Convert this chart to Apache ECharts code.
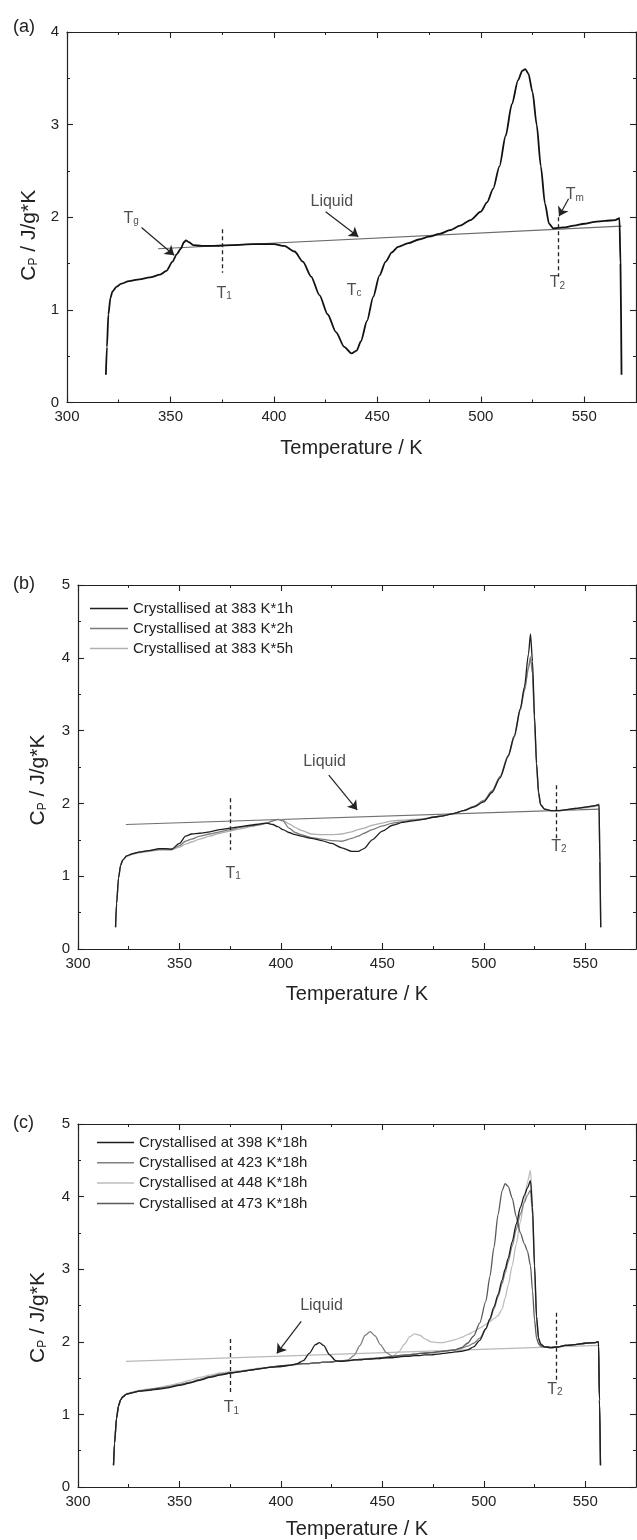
<!DOCTYPE html>
<html>
<head>
<meta charset="utf-8">
<script src="https://cdn.jsdelivr.net/npm/echarts@6/dist/echarts.min.js"></script>
<style>html,body{margin:0;padding:0;background:#fff}#c{width:637px;height:1540px}</style>
</head>
<body>
<div id="c"></div>
<script>
// ---------------- axis settings ----------------
const X_MIN = 300, X_MAX = 575, X_MAJOR = 50, X_MINOR = 25;
const Y_MAX = [4, 5, 5];

// ---------------- panel (a) ----------------
const aT  = [318.8,319.3,320,321,322,324,326,330,335,340,345,348,351,353,355,356.5,357.5,359,361,365,370,380,390,400,405,410,414,418,422,426,430,434,437.5,440,442,445,448,451,454,457,460,465,470,475,480,485,490,495,500,503,506,509,512,515,518,520,521.5,523,525,527,529,531,533,535,540,545,550,555,560,565,567,567.5,568];
const aCp = [0.30,0.60,0.95,1.13,1.20,1.25,1.28,1.31,1.33,1.35,1.38,1.42,1.52,1.60,1.66,1.73,1.75,1.73,1.70,1.69,1.69,1.70,1.71,1.71,1.69,1.63,1.52,1.36,1.16,0.95,0.76,0.60,0.53,0.56,0.66,0.88,1.14,1.37,1.52,1.62,1.68,1.72,1.76,1.79,1.82,1.86,1.91,1.97,2.06,2.16,2.31,2.55,2.88,3.22,3.48,3.58,3.60,3.55,3.35,3.00,2.55,2.15,1.93,1.88,1.89,1.91,1.93,1.95,1.96,1.97,1.99,1.50,0.30];
const aLiquidT  = [344, 568];
const aLiquidCp = [1.66, 1.905];

// ---------------- panel (b) ----------------
const bNames = ['Crystallised at 383 K*1h','Crystallised at 383 K*2h','Crystallised at 383 K*5h'];
const bT  = [318.5,319,320,321,322,324,327,330,335,340,343,346,350,353,356,360,365,370,375,380,385,390,393,396,398.5,401,404,407,410,415,420,425,430,435,438,441,445,450,455,460,465,470,475,480,485,490,495,500,504,508,512,515,518,520,522,523,524,525,526,527,528,530,533,537,540,545,550,555,556.8,557.2,557.6];
const b1h = [0.30,0.62,0.98,1.15,1.22,1.28,1.31,1.33,1.35,1.38,1.38,1.37,1.45,1.55,1.58,1.59,1.61,1.64,1.66,1.68,1.70,1.72,1.73,1.71,1.68,1.64,1.60,1.57,1.55,1.52,1.49,1.45,1.39,1.34,1.34,1.38,1.50,1.62,1.70,1.74,1.76,1.78,1.81,1.83,1.86,1.90,1.95,2.02,2.15,2.35,2.65,2.92,3.30,3.60,4.05,4.33,3.95,3.20,2.55,2.15,1.98,1.92,1.90,1.90,1.91,1.93,1.95,1.97,1.98,1.20,0.30];
const b2h = [0.30,0.62,0.98,1.15,1.22,1.28,1.31,1.33,1.35,1.37,1.37,1.37,1.42,1.48,1.51,1.55,1.58,1.61,1.64,1.67,1.69,1.71,1.73,1.76,1.78,1.76,1.66,1.60,1.57,1.53,1.51,1.49,1.48,1.52,1.55,1.59,1.64,1.69,1.73,1.75,1.77,1.78,1.81,1.83,1.86,1.90,1.96,2.04,2.17,2.37,2.66,2.93,3.30,3.55,3.85,4.00,3.78,3.10,2.50,2.12,1.98,1.92,1.90,1.90,1.91,1.93,1.95,1.97,1.99,1.20,0.30];
const b5h = [0.30,0.62,0.98,1.15,1.22,1.27,1.30,1.32,1.34,1.36,1.36,1.36,1.40,1.44,1.47,1.51,1.55,1.59,1.62,1.65,1.68,1.71,1.73,1.76,1.78,1.77,1.72,1.67,1.63,1.58,1.57,1.57,1.58,1.61,1.64,1.66,1.70,1.73,1.76,1.77,1.78,1.79,1.81,1.83,1.86,1.90,1.96,2.03,2.16,2.36,2.64,2.90,3.27,3.55,3.88,4.02,3.82,3.15,2.55,2.15,1.99,1.92,1.90,1.90,1.91,1.92,1.94,1.96,1.97,1.20,0.30];
const bLiquidT  = [323.6, 557];
const bLiquidCp = [1.71, 1.92];

// ---------------- panel (c) ----------------
const cNames = ['Crystallised at 398 K*18h','Crystallised at 423 K*18h','Crystallised at 448 K*18h','Crystallised at 473 K*18h'];
const cT   = [317.5,318,319,320,321,322,324,327,330,335,340,345,350,355,360,365,370,375,380,385,390,395,400,405,408,411,414,417,419,421,424,427,430,433,436,439,441.5,444,446.5,449,452,455,458,461,463.5,466,468.5,471,474,477,480,483,486,489,492,495,498,501,503,505,507,509,510.5,512,514,516,518,520,521.5,523,524,525,526,527,528,530,533,537,540,545,550,555,556.5,557,557.5];
const c398 = [0.30,0.60,0.95,1.12,1.20,1.24,1.28,1.30,1.32,1.33,1.35,1.37,1.40,1.43,1.47,1.51,1.54,1.57,1.59,1.61,1.63,1.65,1.66,1.68,1.70,1.74,1.84,1.96,1.99,1.95,1.82,1.74,1.73,1.74,1.75,1.75,1.76,1.76,1.77,1.77,1.78,1.78,1.79,1.80,1.80,1.81,1.81,1.82,1.82,1.83,1.84,1.85,1.86,1.87,1.89,1.93,2.02,2.18,2.32,2.48,2.65,2.85,3.00,3.15,3.38,3.62,3.85,4.02,4.12,4.22,3.85,3.05,2.35,2.05,1.97,1.93,1.92,1.93,1.95,1.96,1.98,1.99,2.00,1.20,0.30];
const c423 = [0.30,0.60,0.95,1.12,1.20,1.24,1.28,1.30,1.32,1.34,1.36,1.38,1.41,1.44,1.48,1.52,1.55,1.57,1.59,1.61,1.63,1.65,1.66,1.68,1.69,1.70,1.70,1.71,1.71,1.72,1.72,1.73,1.74,1.75,1.81,1.95,2.09,2.14,2.08,1.96,1.85,1.80,1.80,1.81,1.82,1.83,1.84,1.85,1.85,1.86,1.87,1.88,1.89,1.91,1.94,1.98,2.05,2.18,2.30,2.45,2.62,2.80,2.95,3.10,3.32,3.55,3.76,3.92,4.02,4.09,3.75,3.00,2.30,2.03,1.96,1.93,1.92,1.93,1.95,1.96,1.98,1.99,2.00,1.20,0.30];
const c448 = [0.30,0.60,0.95,1.12,1.20,1.25,1.29,1.31,1.33,1.35,1.37,1.40,1.43,1.47,1.51,1.54,1.57,1.59,1.60,1.62,1.64,1.65,1.67,1.68,1.69,1.70,1.70,1.71,1.71,1.72,1.72,1.73,1.74,1.74,1.75,1.75,1.76,1.76,1.77,1.77,1.78,1.80,1.86,1.97,2.07,2.11,2.09,2.04,2.00,1.99,1.99,2.01,2.03,2.06,2.10,2.14,2.19,2.24,2.28,2.32,2.36,2.45,2.60,2.78,3.05,3.35,3.65,3.95,4.20,4.36,3.90,3.10,2.35,2.05,1.97,1.93,1.92,1.93,1.95,1.96,1.98,1.99,2.00,1.20,0.30];
const c473 = [0.30,0.60,0.95,1.12,1.20,1.24,1.28,1.30,1.32,1.34,1.36,1.38,1.41,1.44,1.48,1.52,1.55,1.57,1.59,1.61,1.63,1.65,1.67,1.68,1.69,1.70,1.70,1.71,1.71,1.72,1.72,1.73,1.74,1.74,1.75,1.76,1.76,1.77,1.77,1.78,1.79,1.80,1.81,1.82,1.82,1.83,1.84,1.84,1.85,1.86,1.87,1.88,1.89,1.92,1.98,2.08,2.26,2.56,2.90,3.30,3.75,4.08,4.18,4.14,3.98,3.72,3.50,3.35,3.25,3.05,2.70,2.30,2.05,1.97,1.94,1.93,1.92,1.93,1.95,1.96,1.98,1.99,2.00,1.20,0.30];
const cLiquidT  = [323.6, 557];
const cLiquidCp = [1.73, 1.95];

// ---------------- annotations (data coordinates) ----------------
const aLabels = [[331,1.99,'T','g'],[428,2.17,'Liquid'],[376,1.18,'T','1'],[438.8,1.21,'T','c'],[537,1.29,'T','2'],[545.4,2.24,'T','m']];
const aArrows = [[[336,1.89],[351.8,1.59]],[[425,2.06],[440.8,1.79]],[[542.4,2.20],[537.8,2.01]]];
const aDashes = [[[375,1.87],[375,1.40]],[[537.5,2.0],[537.5,1.36]]];
const bLabels = [[421.5,2.57,'Liquid'],[376.5,1.04,'T','1'],[537,1.41,'T','2']];
const bArrows = [[[423.6,2.39],[437.6,1.91]]];
const bDashes = [[[375.2,2.07],[375.2,1.36]],[[535.5,2.25],[535.5,1.50]]];
const cLabels = [[420,2.5,'Liquid'],[375.6,1.09,'T','1'],[535,1.34,'T','2']];
const cArrows = [[[410,2.28],[398,1.84]]];
const cDashes = [[[375,2.04],[375,1.27]],[[535.5,2.40],[535.5,1.47]]];

// ---------------- build ----------------
const FONT = '"Liberation Sans", Arial, sans-serif';
const INK = '#222';
const zip = (xs, ys) => xs.map((x, i) => [x, ys[i]]);

const grids = [
  {left: 67, top: 32, width: 569, height: 370.5},
  {left: 78, top: 585, width: 558, height: 364},
  {left: 78, top: 1124, width: 558, height: 363.5}
];
const xNameGap = [36, 35, 32];
const yNameGap = [24, 29, 29];
const yNamePad = [36, 26, 24];

const xAxes = [], yAxes = [];
grids.forEach((g, i) => {
  const base = {gridIndex: i, type: 'value', min: X_MIN, max: X_MAX, splitLine: {show: false}};
  xAxes.push(Object.assign({}, base, {
    position: 'bottom', interval: X_MAJOR,
    axisLine: {show: true, onZero: false, lineStyle: {color: INK, width: 1.2}},
    axisTick: {inside: true, length: 6, lineStyle: {color: INK, width: 1.1}},
    axisLabel: {margin: 7, fontSize: 15, color: INK, fontFamily: FONT, showMaxLabel: false},
    name: 'Temperature / K', nameLocation: 'middle', nameGap: xNameGap[i],
    nameTextStyle: {fontSize: 20, color: INK, fontFamily: FONT}
  }));
  xAxes.push(Object.assign({}, base, {
    position: 'bottom', interval: X_MINOR,
    axisLine: {show: false, onZero: false},
    axisTick: {inside: true, length: 3, lineStyle: {color: INK, width: 1}},
    axisLabel: {show: false}
  }));
  xAxes.push(Object.assign({}, base, {
    position: 'top', interval: X_MAJOR,
    axisLine: {show: true, onZero: false, lineStyle: {color: INK, width: 1.2}},
    axisTick: {inside: true, length: 6, lineStyle: {color: INK, width: 1.1}},
    axisLabel: {show: false}
  }));
  xAxes.push(Object.assign({}, base, {
    position: 'top', interval: X_MINOR,
    axisLine: {show: false, onZero: false},
    axisTick: {inside: true, length: 3, lineStyle: {color: INK, width: 1}},
    axisLabel: {show: false}
  }));
  const ybase = {gridIndex: i, type: 'value', min: 0, max: Y_MAX[i], interval: 1, splitLine: {show: false},
    axisLine: {show: true, onZero: false, lineStyle: {color: INK, width: 1.2}},
    axisTick: {inside: true, length: 6, lineStyle: {color: INK, width: 1.1}},
    minorTick: {show: true, splitNumber: 2, length: 3, lineStyle: {color: INK, width: 1}}};
  yAxes.push(Object.assign({}, ybase, {
    position: 'left',
    axisLabel: {margin: 8, fontSize: 15, color: INK, fontFamily: FONT},
    name: 'C{s|P} / J/g*K', nameLocation: 'middle', nameGap: yNameGap[i], nameRotate: 90,
    nameTextStyle: {fontSize: 21, color: INK, fontFamily: FONT, padding: [0, yNamePad[i], 0, 0],
      rich: {s: {fontSize: 12, lineHeight: 6, verticalAlign: 'bottom', color: INK, fontFamily: FONT}}}
  }));
  yAxes.push(Object.assign({}, ybase, {position: 'right', axisLabel: {show: false}}));
});

const RICH = {
  t: {fontSize: 16, color: INK, fontFamily: FONT},
  s: {fontSize: 10, lineHeight: 6, verticalAlign: 'bottom', color: INK, fontFamily: FONT},
  w: {fontSize: 16, color: INK, fontFamily: FONT}
};

function curve(gi, name, T, Cp, color, width, z) {
  return {type: 'line', name: name, xAxisIndex: 4 * gi, yAxisIndex: 2 * gi, data: zip(T, Cp),
    symbol: 'none', smooth: 0.25, smoothMonotone: 'x', silent: true, z: z || 3,
    lineStyle: {color: color, width: width}, itemStyle: {color: color}};
}
function notes(gi, labels, arrows, dashes) {
  return [{
    type: 'scatter', xAxisIndex: 4 * gi, yAxisIndex: 2 * gi, symbolSize: 0, silent: true, z: 6,
    data: labels.map(l => ({value: [l[0], l[1]],
      label: {show: true, position: 'inside', color: INK,
        formatter: l.length > 3 ? '{t|' + l[2] + '}{s|' + l[3] + '}' : '{w|' + l[2] + '}', rich: RICH}})),
    markLine: {silent: true, symbol: ['none', 'arrow'], symbolSize: 9, animation: false,
      label: {show: false}, lineStyle: {color: INK, width: 1.2, type: 'solid'},
      data: arrows.map(a => [{coord: a[0]}, {coord: a[1]}])}
  }, {
    type: 'scatter', xAxisIndex: 4 * gi, yAxisIndex: 2 * gi, symbolSize: 0, silent: true, z: 6, data: [],
    markLine: {silent: true, symbol: ['none', 'none'], animation: false,
      label: {show: false}, lineStyle: {color: INK, width: 1.3, type: [4, 3]},
      data: dashes.map(a => [{coord: a[0]}, {coord: a[1]}])}
  }];
}

const series = [
  curve(0, 'Liquid a', aLiquidT, aLiquidCp, '#6a6a6a', 1.2, 2),
  curve(0, 'Panel a', aT, aCp, '#111', 1.8),
  ...notes(0, aLabels, aArrows, aDashes),

  curve(1, 'Liquid b', bLiquidT, bLiquidCp, '#707070', 1.2, 2),
  curve(1, bNames[2], bT, b5h, '#b0b0b0', 1.3),
  curve(1, bNames[1], bT, b2h, '#7a7a7a', 1.3),
  curve(1, bNames[0], bT, b1h, '#1e1e1e', 1.3),
  ...notes(1, bLabels, bArrows, bDashes),

  curve(2, 'Liquid c', cLiquidT, cLiquidCp, '#b8b8b8', 1.2, 2),
  curve(2, cNames[2], cT, c448, '#bdbdbd', 1.3),
  curve(2, cNames[1], cT, c423, '#808080', 1.3),
  curve(2, cNames[3], cT, c473, '#5a5a5a', 1.3),
  curve(2, cNames[0], cT, c398, '#1e1e1e', 1.3),
  ...notes(2, cLabels, cArrows, cDashes)
];

const legendBase = {orient: 'vertical', icon: 'rect', itemWidth: 38, itemHeight: 1.5, itemGap: 5, padding: 0,
  selectedMode: false, textStyle: {fontSize: 15, color: INK, fontFamily: FONT}};

const option = {
  animation: false,
  textStyle: {fontFamily: FONT},
  title: [
    {text: '(a)', left: 8, top: 13, textStyle: {fontSize: 18, fontWeight: 'normal', color: INK, fontFamily: FONT}},
    {text: '(b)', left: 8, top: 570, textStyle: {fontSize: 18, fontWeight: 'normal', color: INK, fontFamily: FONT}},
    {text: '(c)', left: 8, top: 1109, textStyle: {fontSize: 18, fontWeight: 'normal', color: INK, fontFamily: FONT}}
  ],
  legend: [
    Object.assign({}, legendBase, {data: bNames, left: 90, top: 601}),
    Object.assign({}, legendBase, {data: cNames, left: 97, top: 1135, itemWidth: 37, itemGap: 5.3})
  ],
  grid: grids,
  xAxis: xAxes,
  yAxis: yAxes,
  series: series
};

const chart = echarts.init(document.getElementById('c'), null, {renderer: 'canvas'});
chart.setOption(option);
</script>
</body>
</html>
